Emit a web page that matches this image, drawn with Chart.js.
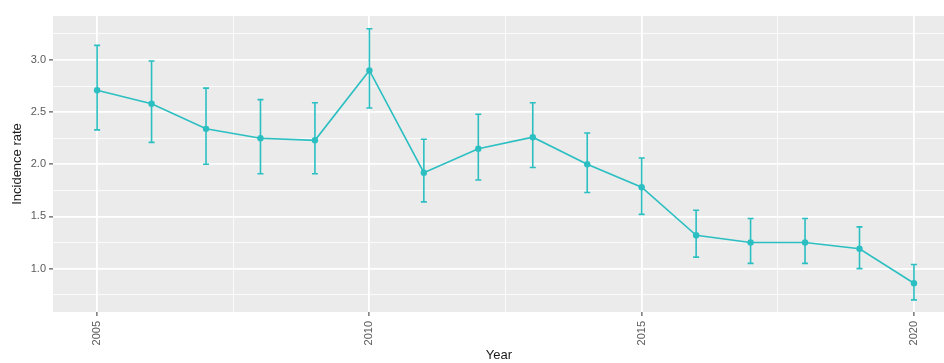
<!DOCTYPE html>
<html lang="en">
<head>
    <meta charset="UTF-8">
    <title>Incidence rate by year</title>
    <script src="https://cdn.jsdelivr.net/npm/chart.js"></script>
    <style>
        body { margin: 0; background: #ffffff; overflow: hidden; }
        /* the panel runs off the right edge in the original, so the canvas is a bit wider than the view */
        #wrap { width: 944px; height: 363px; overflow: hidden; }
    </style>
</head>
<body>
    <div id="wrap"><canvas id="rateChart" width="949" height="363"></canvas></div>

    <script>
        // data
        const years = [2005, 2006, 2007, 2008, 2009, 2010, 2011, 2012, 2013, 2014, 2015, 2016, 2017, 2018, 2019, 2020];
        const rates = [2.71, 2.58, 2.34, 2.25, 2.23, 2.90, 1.92, 2.15, 2.26, 2.00, 1.78, 1.32, 1.25, 1.25, 1.19, 0.86];
        const lower = [2.33, 2.21, 2.00, 1.91, 1.91, 2.54, 1.64, 1.85, 1.97, 1.73, 1.52, 1.11, 1.05, 1.05, 1.00, 0.70];
        const upper = [3.14, 2.99, 2.73, 2.62, 2.59, 3.30, 2.24, 2.48, 2.59, 2.30, 2.06, 1.56, 1.48, 1.48, 1.40, 1.04];

        const xTicks = [2005, 2007.5, 2010, 2012.5, 2015, 2017.5, 2020];
        const yTicks = [0.75, 1.0, 1.25, 1.5, 1.75, 2.0, 2.25, 2.5, 2.75, 3.0, 3.25];

        const teal = '#2bbfc2';
        const panelGrey = '#ebebeb';

        const isMajorX = v => v % 5 === 0;
        const isMajorY = v => Math.abs(v * 2 - Math.round(v * 2)) < 1e-6;

        // grey panel behind the grid
        const panelBg = {
            id: 'panelBg',
            beforeDraw(chart) {
                const a = chart.chartArea;
                const ctx = chart.ctx;
                ctx.save();
                ctx.fillStyle = panelGrey;
                ctx.fillRect(a.left, a.top, chart.width - a.left, a.bottom - a.top);
                ctx.restore();
            }
        };

        // vertical error bars with small caps
        const errorBars = {
            id: 'errorBars',
            beforeDatasetsDraw(chart) {
                const xs = chart.scales.x, ys = chart.scales.y;
                const ctx = chart.ctx;
                ctx.save();
                ctx.strokeStyle = teal;
                ctx.lineWidth = 1.6;
                years.forEach((yr, i) => {
                    const px = xs.getPixelForValue(yr);
                    const top = ys.getPixelForValue(upper[i]);
                    const bot = ys.getPixelForValue(lower[i]);
                    ctx.beginPath();
                    ctx.moveTo(px, top); ctx.lineTo(px, bot);
                    ctx.moveTo(px - 3, top); ctx.lineTo(px + 3, top);
                    ctx.moveTo(px - 3, bot); ctx.lineTo(px + 3, bot);
                    ctx.stroke();
                });
                ctx.restore();
            }
        };

        const ctx = document.getElementById('rateChart').getContext('2d');
        const rateChart = new Chart(ctx, {
            type: 'line',
            data: {
                datasets: [{
                    label: 'Incidence rate',
                    data: years.map((yr, i) => ({ x: yr, y: rates[i] })),
                    borderColor: teal,
                    backgroundColor: teal,
                    borderWidth: 1.6,
                    pointRadius: 3.2,
                    pointBorderWidth: 0,
                    tension: 0
                }]
            },
            options: {
                responsive: false,
                animation: false,
                layout: { padding: { top: 16, right: 0, left: 0, bottom: 0 } },
                plugins: {
                    legend: { display: false },
                    tooltip: { enabled: false }
                },
                scales: {
                    x: {
                        type: 'linear',
                        min: 2004.19,
                        max: 2020.57,
                        afterBuildTicks: s => { s.ticks = xTicks.map(v => ({ value: v })); },
                        afterFit: s => { s.height = 51; },
                        border: { display: false },
                        grid: {
                            color: '#ffffff',
                            lineWidth: c => isMajorX(c.tick.value) ? 1.8 : 0.8,
                            tickColor: c => isMajorX(c.tick.value) ? '#333333' : 'rgba(0,0,0,0)',
                            tickWidth: 1,
                            tickLength: 4
                        },
                        ticks: {
                            autoSkip: false,
                            maxRotation: 90,
                            minRotation: 90,
                            padding: 5,
                            color: '#5a5a5a',
                            font: { family: 'Liberation Sans', size: 11 },
                            callback: v => isMajorX(v) ? String(v) : ''
                        },
                        title: {
                            display: true,
                            text: 'Year',
                            color: '#1a1a1a',
                            font: { family: 'Liberation Sans', size: 13 },
                            padding: { top: 0, bottom: 0 }
                        }
                    },
                    y: {
                        min: 0.584,
                        max: 3.422,
                        afterBuildTicks: s => { s.ticks = yTicks.map(v => ({ value: v })); },
                        afterFit: s => { s.width = 53; },
                        border: { display: false },
                        grid: {
                            color: '#ffffff',
                            lineWidth: c => isMajorY(c.tick.value) ? 1.8 : 0.8,
                            tickColor: c => isMajorY(c.tick.value) ? '#333333' : 'rgba(0,0,0,0)',
                            tickWidth: 1,
                            tickLength: 4
                        },
                        ticks: {
                            padding: 3,
                            color: '#5a5a5a',
                            font: { family: 'Liberation Sans', size: 11 },
                            callback: v => isMajorY(v) ? v.toFixed(1) : ''
                        },
                        title: {
                            display: true,
                            text: 'Incidence rate',
                            color: '#1a1a1a',
                            font: { family: 'Liberation Sans', size: 13 },
                            padding: { top: 10, bottom: 0 }
                        }
                    }
                }
            },
            plugins: [panelBg, errorBars]
        });
    </script>
</body>
</html>
